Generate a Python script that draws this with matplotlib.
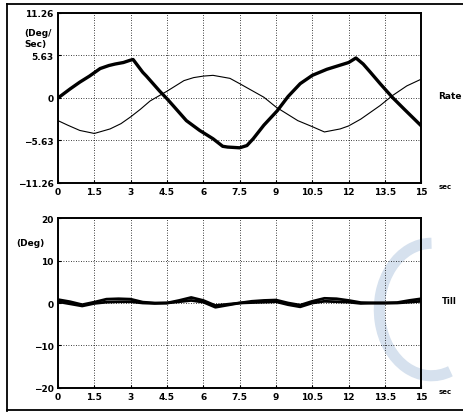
import numpy as np
import matplotlib
matplotlib.use("Agg")
import matplotlib.pyplot as plt
from matplotlib.lines import Line2D
from matplotlib.patches import Arc

# -- data --------------------------------------------------------------------
rate_a_t = [0, 0.5, 0.9, 1.3, 1.74, 2.1, 2.36, 2.7, 2.98, 3.1, 3.5, 3.65, 4.2,
            4.5, 4.75, 5.3, 5.85, 6.4, 6.8, 7.0, 7.5, 7.8, 8.06, 8.5, 9.05,
            9.5, 10.0, 10.5, 11.1, 11.6, 12.0, 12.3, 12.6, 12.9, 13.3, 13.8,
            14.3, 15.0]
rate_a = [0, 1.2, 2.1, 2.9, 3.9, 4.3, 4.5, 4.7, 5.0, 5.1, 3.4, 2.9, 0.9,
          -0.1, -1.0, -3.0, -4.3, -5.4, -6.4, -6.5, -6.6, -6.3, -5.4, -3.6,
          -1.7, 0.2, 1.9, 3.0, 3.8, 4.3, 4.7, 5.3, 4.5, 3.4, 1.9, 0.1,
          -1.5, -3.7]

rate_b_t = [0, 0.4, 0.9, 1.5, 2.15, 2.6, 3.0, 3.4, 3.8, 4.5, 5.2, 5.6, 6.0,
            6.4, 7.1, 7.5, 8.0, 8.5, 9.0, 9.5, 9.9, 10.5, 11.0, 11.65, 12.0,
            12.5, 13.3, 13.8, 14.4, 15.0]
rate_b = [-3.0, -3.6, -4.3, -4.7, -4.1, -3.4, -2.5, -1.5, -0.4, 0.9, 2.3,
          2.7, 2.9, 3.0, 2.6, 1.9, 1.0, 0.1, -1.2, -2.2, -3.0, -3.8, -4.5,
          -4.1, -3.7, -2.8, -1.0, 0.3, 1.6, 2.5]

tilt_t = np.arange(0, 15.01, 0.5)
tilt_a = [0.8, 0.3, -0.4, 0.2, 0.9, 1.0, 0.9, 0.2, 0.0, 0.0, 0.6, 1.3, 0.6,
          -0.6, -0.3, 0.0, 0.4, 0.6, 0.7, 0.0, -0.5, 0.4, 1.1, 1.0, 0.6,
          0.1, 0.0, 0.0, 0.1, 0.6, 1.0]
tilt_b = [0.3, -0.2, -0.7, -0.1, 0.2, 0.3, 0.3, 0.0, -0.1, 0.0, 0.3, 0.6,
          0.2, -1.0, -0.5, 0.0, 0.1, 0.2, 0.3, -0.4, -0.9, 0.0, 0.4, 0.3,
          0.2, -0.1, 0.0, 0.0, 0.0, 0.2, 0.4]

x_ticks = [0, 1.5, 3, 4.5, 6, 7.5, 9, 10.5, 12, 13.5, 15]
x_labels = ["0", "1.5", "3", "4.5", "6", "7.5", "9", "10.5", "12", "13.5", "15"]
rate_ticks = [-11.26, -5.63, 0, 5.63, 11.26]
rate_labels = ["\u221211.26", "\u22125.63", "0", "5.63", "11.26"]
tilt_ticks = [-20, -10, 0, 10, 20]
tilt_labels = ["\u221220", "\u221210", "0", "10", "20"]

FS = 6.5
plt.rcParams["font.family"] = ["DejaVu Sans"]
plt.rcParams["font.weight"] = "bold"

fig = plt.figure(figsize=(4.64, 4.14), dpi=100)

# faint scan watermark (emblem arc) behind the plots
wm = fig.add_axes([0.78, 0.05, 0.3, 0.4], zorder=0)
wm.set_xlim(0, 1); wm.set_ylim(0, 1); wm.axis("off")
wm.add_patch(Arc((0.5, 0.5), 0.75, 0.8, theta1=90, theta2=290, lw=8,
                 color="#d6e1ee"))

def style(ax, yticks, ylabels, ylim):
    ax.set_facecolor("none")
    ax.set_xlim(0, 15)
    ax.set_ylim(*ylim)
    ax.set_xticks(x_ticks)
    ax.set_xticklabels(x_labels, fontsize=FS, fontweight="bold")
    ax.set_yticks(yticks)
    ax.set_yticklabels(ylabels, fontsize=FS, fontweight="bold")
    ax.tick_params(length=2, width=0.8, pad=3, direction="in")
    ax.grid(True, color="black", linestyle=(0, (1, 2)), linewidth=0.6)
    for s in ax.spines.values():
        s.set_linewidth(1.4)

ax1 = fig.add_axes([0.125, 0.5556, 0.783, 0.4106], zorder=2)
style(ax1, rate_ticks, rate_labels, (-11.26, 11.26))
ax1.plot(rate_b_t, rate_b, color="black", lw=0.8)
ax1.plot(rate_a_t, rate_a, color="black", lw=2.4)

ax2 = fig.add_axes([0.125, 0.0604, 0.783, 0.4106], zorder=2)
style(ax2, tilt_ticks, tilt_labels, (-20, 20))
ax2.plot(tilt_t, tilt_b, color="black", lw=2.0)
ax2.plot(tilt_t, tilt_a, color="black", lw=2.0)

# labels
fig.text(0.052, 0.905, "(Deg/\nSec)", fontsize=FS, fontweight="bold",
         ha="left", va="center", linespacing=1.3)
fig.text(0.035, 0.413, "(Deg)", fontsize=FS, fontweight="bold",
         ha="left", va="center")
fig.text(0.945, 0.766, "Rate", fontsize=FS, fontweight="bold",
         ha="left", va="center")
fig.text(0.952, 0.272, "Till", fontsize=FS - 0.5, fontweight="bold",
         ha="left", va="center")
fig.text(0.945, 0.548, "sec", fontsize=FS - 1.5, fontweight="bold",
         ha="left", va="center")
fig.text(0.945, 0.052, "sec", fontsize=FS - 1.5, fontweight="bold",
         ha="left", va="center")

# outer scan frame
for xs, ys in [((0.016, 0.016), (0.005, 0.988)),
               ((0.016, 1.0), (0.988, 0.988)),
               ((0.016, 1.0), (0.007, 0.007))]:
    fig.add_artist(Line2D(xs, ys, color="black", lw=1.3))

fig.savefig("out.png", dpi=100)
